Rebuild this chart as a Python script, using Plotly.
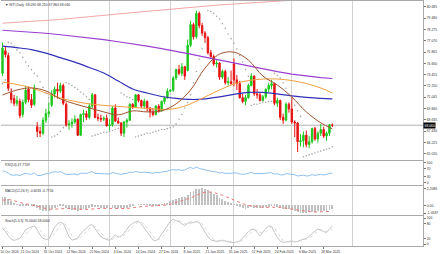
import plotly.graph_objects as go
import pandas as pd

# ---------------- data ----------------
HOLIDAYS = ["2024-12-25", "2025-01-09"]
DATES = [d for d in pd.bdate_range("2024-10-10", "2025-03-21")
         if d.strftime("%Y-%m-%d") not in HOLIDAYS]
BARS = list(range(len(DATES)))

OPEN = [73.6, 76.0, 75.5, 71.5, 70.9, 70.4, 70.6, 69.2, 70.5, 71.9,
        70.8, 70.3, 67.9, 67.4, 67.2, 68.6, 69.3, 70.2, 71.4, 71.9,
        71.7, 72.3, 70.3, 68.1, 68.2, 68.4, 68.7, 67.0, 69.2, 69.3,
        68.9, 70.1, 71.3, 68.9, 68.8, 68.7, 68.8, 68.0, 68.1, 69.9,
        68.5, 68.3, 67.2, 68.4, 68.6, 70.3, 70.0, 71.3, 70.7, 70.1,
        70.6, 69.9, 69.5, 69.2, 70.1, 69.6, 70.6, 71.0, 71.7, 71.8,
        73.1, 74.0, 73.6, 74.3, 73.9, 76.6, 78.8, 77.5, 80.0, 78.7,
        77.9, 77.4, 75.8, 75.4, 74.6, 74.7, 73.2, 73.8, 72.6, 72.7,
        74.6, 72.9, 72.5, 71.0, 70.6, 71.0, 72.3, 73.3, 71.4, 71.3,
        70.7, 71.1, 71.9, 72.3, 72.5, 70.4, 70.7, 68.9, 68.6, 70.3,
        69.8, 68.4, 68.3, 66.3, 66.4, 67.0, 66.0, 66.3, 67.7, 66.6,
        67.2, 67.6, 66.9, 67.2, 68.09]
HIGH = [76.9, 76.4, 75.8, 72.0, 71.3, 71.2, 70.9, 70.8, 72.3, 72.2,
        71.4, 72.4, 68.4, 67.9, 68.9, 69.8, 70.5, 71.8, 72.2, 72.6,
        72.6, 72.5, 70.5, 68.6, 68.8, 69.1, 68.8, 69.3, 69.7, 69.6,
        70.4, 71.5, 71.4, 69.3, 69.2, 69.0, 69.2, 68.7, 70.1, 70.3,
        68.9, 68.4, 68.5, 68.8, 70.4, 70.4, 71.4, 71.4, 70.8, 70.9,
        70.7, 70.0, 69.9, 70.2, 70.3, 70.7, 71.1, 72.0, 71.9, 73.3,
        74.1, 74.5, 74.7, 74.4, 77.2, 79.2, 79.0, 80.3, 80.2, 79.0,
        78.1, 77.6, 76.1, 75.6, 75.0, 74.8, 74.0, 74.0, 73.2, 73.9,
        75.2, 73.4, 72.8, 71.4, 71.3, 72.5, 73.6, 73.4, 71.9, 71.5,
        71.3, 72.0, 72.6, 72.9, 72.6, 71.0, 70.8, 69.3, 70.5, 70.5,
        71.0, 68.6, 68.4, 67.1, 67.4, 67.5, 66.9, 67.8, 67.9, 67.4,
        68.2, 67.9, 67.4, 68.2, 68.25]
LOW = [73.3, 75.3, 71.7, 70.4, 70.1, 70.1, 68.8, 68.9, 70.3, 70.5,
       69.9, 70.1, 66.8, 66.8, 67.0, 68.3, 68.9, 70.0, 71.0, 70.9,
       71.5, 70.2, 67.9, 67.6, 67.8, 68.2, 66.9, 66.9, 68.4, 68.6,
       68.7, 69.9, 68.8, 68.5, 68.4, 68.5, 67.9, 67.5, 67.9, 68.4,
       68.2, 66.9, 66.8, 67.8, 68.5, 69.8, 69.9, 70.5, 69.9, 69.8,
       69.5, 68.9, 69.0, 69.1, 69.4, 69.5, 70.3, 70.9, 71.6, 71.6,
       72.9, 73.4, 73.3, 72.9, 73.8, 76.4, 77.2, 77.3, 78.4, 77.6,
       76.9, 75.6, 75.2, 74.4, 74.2, 72.9, 73.0, 72.4, 72.3, 72.4,
       72.2, 71.8, 70.9, 70.4, 70.2, 70.9, 72.2, 71.2, 70.9, 70.6,
       70.6, 70.9, 71.6, 71.9, 70.2, 70.0, 68.6, 68.2, 68.5, 69.4,
       68.2, 66.8, 65.2, 65.8, 65.7, 65.7, 65.6, 66.1, 66.4, 66.2,
       66.9, 66.7, 66.4, 66.9, 67.86]
CLOSE = [76.3, 75.6, 72.0, 70.8, 70.4, 70.7, 69.1, 70.5, 71.8, 70.8,
         70.2, 72.0, 67.4, 67.2, 68.6, 69.3, 69.5, 71.4, 71.9, 71.7,
         72.3, 70.4, 68.1, 68.2, 68.4, 68.7, 67.0, 69.2, 69.3, 68.9,
         70.1, 71.3, 68.9, 68.8, 68.7, 68.8, 68.0, 68.1, 69.9, 68.5,
         68.3, 67.2, 68.4, 68.6, 70.3, 70.0, 71.3, 70.7, 70.1, 70.6,
         69.9, 69.5, 69.2, 70.1, 69.6, 70.6, 71.0, 71.7, 71.8, 73.1,
         74.0, 73.6, 74.3, 73.3, 76.6, 78.8, 77.5, 80.0, 78.7, 77.9,
         77.4, 75.8, 75.4, 74.6, 74.7, 73.2, 73.8, 72.6, 72.7, 72.5,
         72.9, 72.5, 71.0, 70.6, 71.0, 72.3, 73.3, 71.4, 71.3, 70.7,
         71.1, 71.9, 72.3, 72.5, 70.4, 70.7, 68.9, 68.6, 70.3, 69.8,
         68.4, 68.3, 66.3, 66.4, 67.0, 66.0, 66.3, 67.7, 66.6, 67.2,
         67.6, 66.9, 67.2, 68.1, 68.06]

SAR = [72.5, 72.9, 76.9, 76.8, 76.5, 76.1, 75.8, 75.3, 74.8, 74.4,
       74.0, 73.6, 73.3, 72.7, 72.1, 71.5, 71.0, 66.8, 66.9, 67.1,
       67.4, 67.8, 72.6, 72.5, 72.3, 72.1, 71.9, 71.6, 71.4, 71.1,
       70.8, 66.9, 67.0, 67.1, 67.2, 67.3, 67.3, 67.4, 67.5, 67.6,
       67.7, 71.5, 71.3, 71.1, 71.0, 70.8, 66.8, 66.9, 67.0, 67.1,
       67.2, 67.2, 67.3, 67.4, 67.5, 67.6, 67.6, 67.7, 67.8, 67.9,
       68.2, 68.7, 69.2, 69.9, 70.5, 71.3, 72.6, 73.8, 75.1, 76.2,
       76.9, 80.3, 80.2, 80.0, 79.7, 79.4, 78.9, 78.4, 77.8, 77.3,
       76.8, 76.2, 75.5, 74.8, 74.0, 73.3, 70.2, 70.3, 70.3, 70.4,
       70.5, 70.5, 70.6, 70.6, 73.6, 73.4, 73.1, 72.6, 72.0, 71.4,
       70.8, 70.2, 69.6, 69.0, 64.7, 64.8, 64.9, 65.0, 65.1, 65.2,
       65.3, 65.4, 65.5, 65.6, 65.75]

MA_BARS = [0, 5, 10, 15, 20, 25, 30, 35, 40, 45, 50, 55, 60, 65, 70, 75,
           80, 85, 90, 95, 100, 105, 110, 114]
MA_PINK = [78.95, 79.04, 79.13, 79.22, 79.35, 79.50, 79.66, 79.82, 79.95, 80.08,
           80.22, 80.36, 80.52, 80.68, 80.80, 80.90, 81.00, 81.10, 81.20, 81.30,
           81.40, 81.50, 81.60, 81.68]
MA_PURPLE = [78.20, 78.09, 78.04, 77.88, 77.72, 77.56, 77.40, 77.19, 76.97, 76.76,
             76.50, 76.23, 75.97, 75.65, 75.33, 75.01, 74.69, 74.37, 74.06, 73.79,
             73.52, 73.31, 73.15, 73.05]
MA_BLUE = [76.50, 76.34, 76.13, 75.76, 75.28, 74.80, 74.22, 73.63, 72.78, 71.93,
           71.50, 71.13, 70.92, 70.81, 70.87, 71.08, 71.35, 71.56, 71.56, 71.40,
           71.19, 71.03, 70.92, 70.87]
MA_ORANGE = [72.67, 72.41, 72.04, 71.50, 70.97, 70.60, 70.34, 70.18, 70.07, 69.96,
             69.86, 69.75, 69.86, 70.34, 71.08, 71.82, 72.46, 72.83, 72.99, 72.99,
             72.83, 72.51, 72.04, 71.50]
MA_BROWN = [71.29, 71.82, 72.04, 71.72, 70.87, 70.34, 69.91, 69.48, 69.17, 69.59,
            69.48, 69.59, 70.34, 71.82, 74.16, 75.65, 75.86, 75.01, 73.31, 72.35,
            71.08, 69.48, 68.32, 67.68]

RSI = [58, 56, 47, 38, 37, 39, 35, 41, 48, 43, 41, 48, 36, 35, 41,
       44, 45, 52, 54, 52, 55, 47, 40, 41, 42, 43, 38, 47, 47, 46,
       51, 55, 46, 45, 45, 45, 43, 43, 50, 45, 44, 40, 45, 46, 52,
       51, 55, 53, 50, 52, 50, 48, 47, 51, 49, 53, 54, 57, 62, 65,
       63, 65, 61, 63, 71, 76, 70, 78, 71, 67, 65, 59, 57, 54, 54,
       48, 50, 46, 47, 46, 49, 48, 43, 41, 43, 48, 51, 45, 45, 43,
       45, 47, 49, 50, 43, 44, 39, 38, 45, 43, 39, 39, 33, 34, 37,
       33, 34, 40, 36, 39, 41, 38, 40, 45, 47.77]

MACD_MAIN = [1.00, 1.02, 0.85, 0.55, 0.30, 0.12, -0.10, -0.18, -0.08, -0.10, -0.18, -0.05, -0.45, -0.75, -0.85,
             -0.85, -0.80, -0.60, -0.40, -0.28, -0.12, -0.18, -0.40, -0.55, -0.62, -0.62, -0.78, -0.68, -0.58, -0.52,
             -0.40, -0.22, -0.28, -0.33, -0.37, -0.38, -0.45, -0.48, -0.35, -0.36, -0.38, -0.48, -0.45, -0.41, -0.25,
             -0.14, 0.00, 0.04, 0.03, 0.06, 0.03, -0.02, -0.06, -0.02, -0.03, 0.05, 0.14, 0.27, 0.48, 0.70,
             0.83, 0.99, 1.03, 1.10, 1.35, 1.70, 1.85, 2.15, 2.20, 2.21, 2.15, 1.95, 1.74, 1.50, 1.28,
             0.98, 0.80, 0.55, 0.35, 0.20, 0.08, -0.05, -0.25, -0.42, -0.50, -0.45, -0.32, -0.35, -0.38, -0.44,
             -0.42, -0.33, -0.22, -0.12, -0.20, -0.24, -0.42, -0.57, -0.55, -0.58, -0.65, -0.78, -0.98, -1.06, -1.04,
             -1.05, -1.02, -0.94, -0.92, -0.86, -0.80, -0.80, -0.76, -0.68, -0.60]
MACD_SIGNAL = [0.70, 0.76, 0.78, 0.73, 0.65, 0.54, 0.41, 0.29, 0.21, 0.15, 0.08, 0.05, -0.05, -0.19, -0.32,
               -0.43, -0.50, -0.52, -0.50, -0.45, -0.39, -0.35, -0.36, -0.40, -0.44, -0.48, -0.54, -0.57, -0.57, -0.56,
               -0.53, -0.47, -0.43, -0.41, -0.40, -0.39, -0.40, -0.42, -0.41, -0.40, -0.39, -0.41, -0.42, -0.42, -0.39,
               -0.34, -0.27, -0.21, -0.16, -0.11, -0.08, -0.07, -0.07, -0.06, -0.05, -0.03, 0.00, 0.06, 0.15, 0.26,
               0.37, 0.50, 0.60, 0.70, 0.83, 1.00, 1.17, 1.37, 1.54, 1.68, 1.77, 1.81, 1.80, 1.74, 1.65,
               1.51, 1.37, 1.20, 1.03, 0.86, 0.71, 0.56, 0.40, 0.23, 0.08, -0.02, -0.08, -0.14, -0.18, -0.23,
               -0.27, -0.28, -0.27, -0.24, -0.23, -0.24, -0.27, -0.33, -0.38, -0.42, -0.46, -0.53, -0.62, -0.71, -0.78,
               -0.83, -0.87, -0.89, -0.90, -0.90, -0.88, -0.86, -0.84, -0.81, -0.77]

STOCH_K = [60, 50, 32, 19, 14, 18, 22, 38, 55, 62,
           66, 70, 55, 35, 22, 18, 19, 40, 65, 78,
           84, 80, 55, 28, 15, 18, 22, 40, 52, 62,
           72, 75, 58, 40, 28, 22, 16, 13, 25, 35,
           28, 30, 42, 58, 72, 80, 86, 88, 78, 62,
           45, 28, 16, 13, 22, 38, 55, 72, 88, 96,
           92, 86, 78, 72, 80, 86, 83, 88, 83, 65,
           45, 28, 16, 12, 10, 12, 15, 12, 8, 6,
           6, 7, 12, 22, 35, 48, 56, 58, 45, 32,
           45, 60, 70, 68, 45, 25, 12, 6, 8, 10,
           12, 8, 10, 15, 19, 22, 30, 42, 50, 58,
           55, 48, 45, 58, 70]
STOCH_D = [65, 56, 46, 34, 22, 17, 18, 26, 38, 52,
           61, 66, 64, 53, 37, 25, 20, 26, 41, 61,
           76, 81, 73, 54, 33, 20, 18, 27, 38, 51,
           62, 70, 68, 58, 42, 30, 22, 17, 18, 24,
           29, 31, 33, 43, 57, 70, 79, 85, 84, 76,
           62, 45, 30, 19, 17, 24, 38, 55, 72, 85,
           92, 91, 85, 79, 77, 79, 83, 86, 85, 79,
           64, 46, 30, 19, 13, 11, 12, 13, 12, 9,
           7, 6, 8, 14, 23, 35, 46, 54, 53, 45,
           44, 46, 58, 66, 61, 46, 27, 14, 9, 8,
           10, 10, 10, 11, 15, 19, 24, 31, 41, 50,
           54, 54, 49, 50, 58]

PRICE_TICKS = [65.020, 66.225, 67.430, 68.635, 69.840, 71.045, 72.250,
               73.455, 74.660, 75.865, 77.070, 78.275, 79.480, 80.685]
RSI_TICKS = [0, 30, 70, 100]
MACD_TICKS = [-1.0587, 0.0, 2.2086]
MACD_TICKTEXT = ["-1.0587", "0.00", "2.2086"]
STOCH_TICKS = [0, 20, 80, 100]
DATE_TICK_BARS = [0, 7, 15, 23, 31, 39, 47, 55, 63, 71, 79, 87, 95, 103, 111]

HEADER = "\u25bc WTI,Daily  68.090 68.250 67.860 68.060"
RSI_TITLE = "RSI(14) 47.7749"
MACD_TITLE = "MACD(12,26,9) -0.6033 -0.7716"
STOCH_TITLE = "Stoch(5,3,3) 70.0000 58.0000"

# ---------------- derived helpers ----------------
month_starts = [i for i in BARS if i > 0 and DATES[i].month != DATES[i - 1].month]
future = pd.bdate_range(DATES[-1] + pd.Timedelta(days=1), periods=30)
prev = DATES[-1]
for k, d in enumerate(future):
    if d.month != prev.month:
        month_starts.append(len(DATES) + k)
        break
    prev = d
date_text = [DATES[i].strftime("%-d %b %Y") for i in DATE_TICK_BARS]

# ---------------- styling ----------------
FONT = "Liberation Sans"
FS = 3.4
GRID = "#d2d2d2"
BORDER = "#a9a9a9"
GREEN = "#1ec81e"
RED = "#e81212"
X_RANGE = [-0.52, 145.34]

fig = go.Figure()

fig.add_trace(go.Scatter(x=MA_BARS, y=MA_PINK, mode="lines",
                         line=dict(color="#f2a6a6", width=1), xaxis="x", yaxis="y"))
fig.add_trace(go.Scatter(x=MA_BARS, y=MA_PURPLE, mode="lines",
                         line=dict(color="#9b3fd1", width=1.2), xaxis="x", yaxis="y"))
fig.add_trace(go.Scatter(x=MA_BARS, y=MA_BLUE, mode="lines", line_shape="spline",
                         line=dict(color="#2f2fb8", width=1.2), xaxis="x", yaxis="y"))
fig.add_trace(go.Scatter(x=MA_BARS, y=MA_ORANGE, mode="lines", line_shape="spline",
                         line=dict(color="#f0a040", width=1), xaxis="x", yaxis="y"))
fig.add_trace(go.Scatter(x=MA_BARS, y=MA_BROWN, mode="lines", line_shape="spline",
                         line=dict(color="#a0522d", width=1), xaxis="x", yaxis="y"))
fig.add_trace(go.Scatter(x=BARS, y=SAR, mode="markers",
                         marker=dict(color="#a8a8a8", size=1.6), xaxis="x", yaxis="y"))
fig.add_trace(go.Candlestick(
    x=BARS, open=OPEN, high=HIGH, low=LOW, close=CLOSE,
    increasing=dict(line=dict(color=GREEN, width=1), fillcolor=GREEN),
    decreasing=dict(line=dict(color=RED, width=1), fillcolor=RED),
    whiskerwidth=0, xaxis="x", yaxis="y"))

fig.add_trace(go.Scatter(x=BARS, y=RSI, mode="lines",
                         line=dict(color="#8fc0ee", width=1), xaxis="x2", yaxis="y2"))

fig.add_trace(go.Bar(x=BARS, y=MACD_MAIN, marker=dict(color="#c0c0c0", line=dict(width=0)),
                     width=0.3, xaxis="x3", yaxis="y3"))
fig.add_trace(go.Scatter(x=BARS, y=MACD_SIGNAL, mode="lines",
                         line=dict(color="#e87a7a", width=1, dash="dot"), xaxis="x3", yaxis="y3"))

fig.add_trace(go.Scatter(x=BARS, y=STOCH_K, mode="lines",
                         line=dict(color="#c4c4c4", width=1), xaxis="x4", yaxis="y4"))
fig.add_trace(go.Scatter(x=BARS, y=STOCH_D, mode="lines",
                         line=dict(color="#d8d8d8", width=1, dash="dot"), xaxis="x4", yaxis="y4"))

H_PLOT = 247.0
def dom(top_px, bot_px):
    return [(H_PLOT - bot_px) / H_PLOT, (H_PLOT - top_px) / H_PLOT]

xcommon = dict(range=X_RANGE, showline=True, mirror=True, linecolor=BORDER, linewidth=1,
               zeroline=False, showgrid=False, fixedrange=True,
               minor=dict(tickmode="array", tickvals=month_starts, showgrid=True,
                          gridcolor=GRID, gridwidth=1, ticks=""))
ycommon = dict(side="right", showline=True, linecolor=BORDER, linewidth=1, zeroline=False,
               showgrid=False, ticks="outside", ticklen=2, tickcolor="#777", tickwidth=0.6,
               tickfont=dict(size=FS, color="#333", family=FONT), fixedrange=True)

fig.update_layout(
    width=440, height=254, margin=dict(l=0, r=17, t=0, b=7),
    paper_bgcolor="white", plot_bgcolor="white", showlegend=False,
    font=dict(family=FONT, size=FS, color="#333"),
    bargap=0,
    xaxis=dict(xcommon, anchor="y", showticklabels=False, rangeslider=dict(visible=False)),
    xaxis2=dict(xcommon, anchor="y2", matches="x", showticklabels=False),
    xaxis3=dict(xcommon, anchor="y3", matches="x", showticklabels=False),
    xaxis4=dict(xcommon, anchor="y4", matches="x", tickmode="array", tickvals=DATE_TICK_BARS,
                ticktext=date_text, ticks="outside", ticklen=2, tickcolor="#777", tickwidth=0.6,
                tickangle=0, ticklabelshift=7, ticklabeloverflow="allow",
                tickfont=dict(size=FS, color="#333", family=FONT)),
    yaxis=dict(ycommon, domain=dom(0, 160), range=[64.38, 81.32], tickmode="array",
               tickvals=PRICE_TICKS, ticktext=[f"{v:.3f}" for v in PRICE_TICKS], anchor="x"),
    yaxis2=dict(ycommon, domain=dom(161, 186), range=[-15, 110], tickmode="array",
                tickvals=RSI_TICKS, anchor="x2"),
    yaxis3=dict(ycommon, domain=dom(187, 216), range=[-1.3254, 2.542], tickmode="array",
                tickvals=MACD_TICKS, ticktext=MACD_TICKTEXT, anchor="x3"),
    yaxis4=dict(ycommon, domain=dom(217, 247), range=[-7.7, 107.7], tickmode="array",
                tickvals=STOCH_TICKS, anchor="x4"),
)

# bid line and price box
fig.add_shape(type="line", xref="x domain", yref="y", x0=0, x1=1, y0=CLOSE[-1], y1=CLOSE[-1],
              line=dict(color="#b0b0b0", width=1), layer="below")
fig.add_annotation(x=1, xref="paper", xanchor="left", y=CLOSE[-1], yref="y",
                   text=f"{CLOSE[-1]:.3f}", showarrow=False, bgcolor="#000", borderpad=0.5,
                   font=dict(color="white", size=FS, family=FONT))

def title(txt, top_px):
    fig.add_annotation(x=0.004, xref="paper", xanchor="left", y=dom(top_px, top_px)[1],
                       yref="paper", yanchor="top", text=txt, showarrow=False,
                       font=dict(size=FS, color="#333", family=FONT))

title(HEADER, 0.5)
title(RSI_TITLE, 161.5)
title(MACD_TITLE, 187.5)
title(STOCH_TITLE, 217.5)

fig.write_html("out.html")
